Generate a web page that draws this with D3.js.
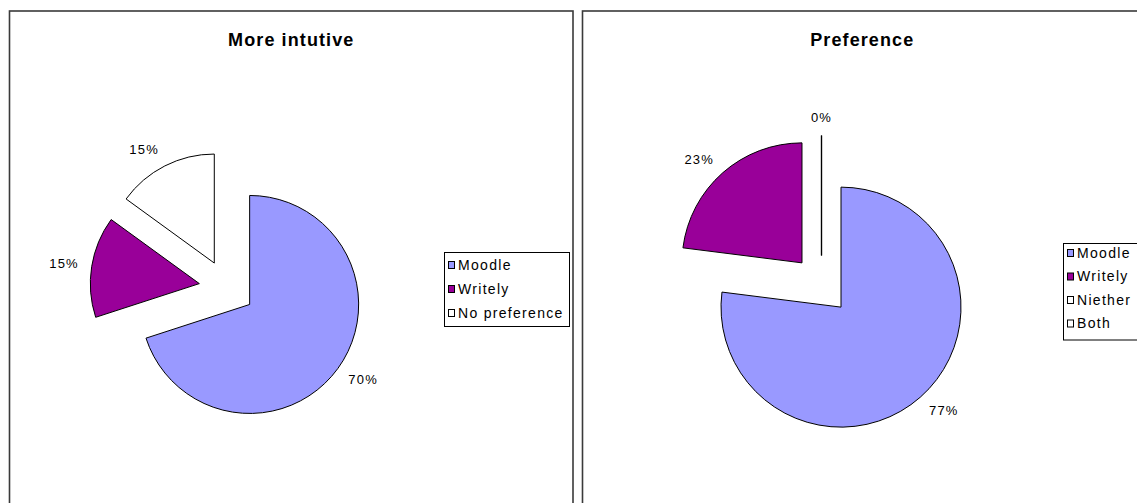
<!DOCTYPE html>
<html><head><meta charset="utf-8">
<script src="https://cdn.jsdelivr.net/npm/d3@7"></script>
<style>body{margin:0;background:#fff}svg{display:block}text{font-family:"Liberation Sans",Arial,sans-serif}</style>
</head><body><svg id="c" width="1137" height="503"></svg>
<script>
const titles = ["More intutive", "Preference"];
const catsA = ["Moodle", "Writely", "No preference"];
const valsA = [70, 15, 15];
const catsB = ["Moodle", "Writely", "Niether", "Both"];
const valsB = [77, 23, 0, 0];
const colorsA = ["#9999FF", "#990099", "#FFFFFF"];
const colorsB = ["#9999FF", "#990099", "#FFFFFF", "#FFFFFF"];

const svg = d3.select("#c");

const panels = [
  {x0: 9.5, x1: 573, title: titles[0], cats: catsA, vals: valsA, colors: colorsA,
   cx: 227, cy: 288, r: 109, d: 28, legend: {x: 444, y: 252, w: 125, step: 24, first: 265}},
  {x0: 582.5, x1: 1142, title: titles[1], cats: catsB, vals: valsB, colors: colorsB,
   cx: 821.5, cy: 285, r: 120, d: 29.5, legend: {x: 1063, y: 243, w: 90, step: 23.5, first: 253}}
];

panels.forEach(p => {
  const g = svg.append("g");
  g.append("rect").attr("x", p.x0).attr("y", 11).attr("width", p.x1 - p.x0).attr("height", 520)
    .attr("fill", "#fff").attr("stroke", "#3a3a3a").attr("stroke-width", 1.6);
  g.append("text").attr("x", (p.x0 + p.x1) / 2).attr("y", 46).attr("text-anchor", "middle")
    .attr("font-size", 18).attr("font-weight", "bold").attr("letter-spacing", 1.1).text(p.title);

  const data = p.cats.map((c, i) => ({cat: c, value: p.vals[i], color: p.colors[i]}));
  const pie = d3.pie().value(d => d.value).sort(null)(data);
  const arc = d3.arc().innerRadius(0).outerRadius(p.r);
  let zeroLabelled = false;
  pie.forEach(s => {
    const mid = (s.startAngle + s.endAngle) / 2;
    const ux = Math.sin(mid), uy = -Math.cos(mid);
    const ax = p.cx + p.d * ux, ay = p.cy + p.d * uy;
    const sg = g.append("g").attr("transform", `translate(${ax},${ay})`);
    const isZero = s.endAngle - s.startAngle < 1e-6;
    if (!isZero) {
      sg.append("path").attr("d", arc(s)).attr("fill", s.data.color)
        .attr("stroke", "#000").attr("stroke-width", 1).attr("stroke-linejoin", "round");
    } else {
      sg.append("line").attr("x1", 0).attr("y1", 0)
        .attr("x2", p.r * Math.sin(s.startAngle)).attr("y2", -p.r * Math.cos(s.startAngle))
        .attr("stroke", "#000").attr("stroke-width", 1.2);
    }
    if (isZero && zeroLabelled) return;
    if (isZero) zeroLabelled = true;
    const R = p.r + 13;
    const lx = R * ux, ly = R * uy + 5 * uy;
    const anchor = Math.abs(ux) < 0.1 ? "middle" : (ux > 0 ? "start" : "end");
    sg.append("text").attr("x", lx).attr("y", ly).attr("dy", "0.35em")
      .attr("text-anchor", anchor).attr("font-size", 13).attr("letter-spacing", 1.2).attr("fill", "#000")
      .text(Math.round(s.data.value) + "%");
  });

  const L = p.legend;
  const n = p.cats.length;
  const lh = (n - 1) * L.step + 26;
  g.append("rect").attr("x", L.x + 0.5).attr("y", L.y + 0.5).attr("width", L.w).attr("height", lh)
    .attr("fill", "#fff").attr("stroke", "#000").attr("stroke-width", 1);
  p.cats.forEach((c, i) => {
    const yy = L.first + i * L.step;
    g.append("rect").attr("x", L.x + 4.5).attr("y", yy - 3.5).attr("width", 6).attr("height", 7)
      .attr("fill", p.colors[i]).attr("stroke", "#000").attr("stroke-width", 1);
    g.append("text").attr("x", L.x + 14).attr("y", yy).attr("dy", "0.35em")
      .attr("font-size", 14).attr("letter-spacing", 1.3).attr("fill", "#000").text(c);
  });
});
</script></body></html>
